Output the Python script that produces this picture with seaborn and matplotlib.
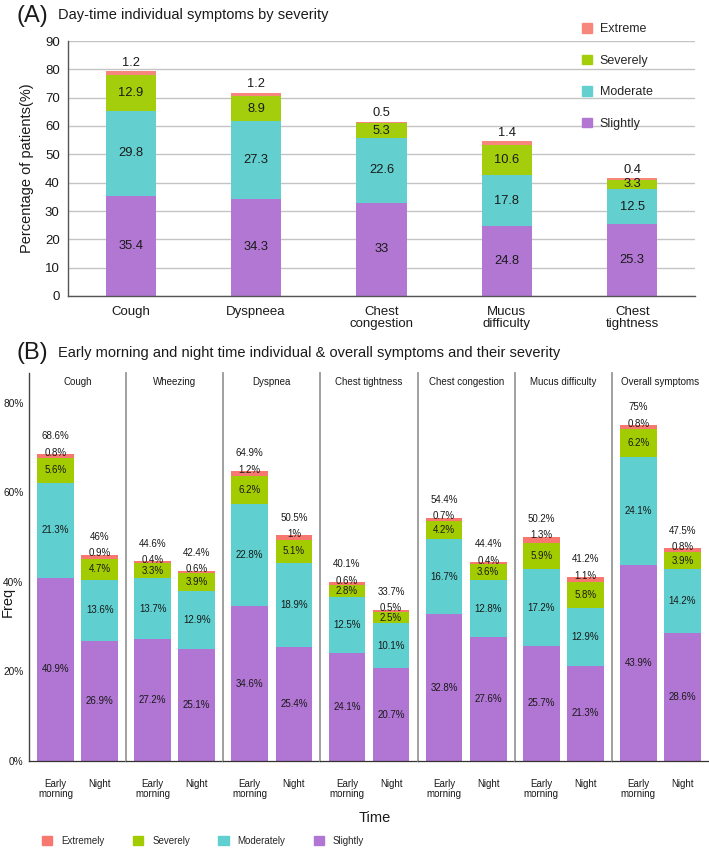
import pandas as pd
import matplotlib.pyplot as plt
import seaborn as sns
from matplotlib import font_manager
from matplotlib.patches import Patch

# Panel A: day-time symptoms by severity (% of patients)
day_symptoms = ['Cough', 'Dyspneea', 'Chest\ncongestion', 'Mucus\ndifficulty', 'Chest\ntightness']
day_slightly = [35.4, 34.3, 33, 24.8, 25.3]
day_moderate = [29.8, 27.3, 22.6, 17.8, 12.5]
day_severely = [12.9, 8.9, 5.3, 10.6, 3.3]
day_extreme = [1.2, 1.2, 0.5, 1.4, 0.4]

# Panel B: early morning / night, one pair per facet
panels = ['Cough', 'Wheezing', 'Dyspnea', 'Chest tightness', 'Chest congestion',
          'Mucus difficulty', 'Overall symptoms']
times = ['Early morning', 'Night']
slightly = [[40.9, 26.9], [27.2, 25.1], [34.6, 25.4], [24.1, 20.7], [32.8, 27.6], [25.7, 21.3], [43.9, 28.6]]
moderately = [[21.3, 13.6], [13.7, 12.9], [22.8, 18.9], [12.5, 10.1], [16.7, 12.8], [17.2, 12.9], [24.1, 14.2]]
severely = [[5.6, 4.7], [3.3, 3.9], [6.2, 5.1], [2.8, 2.5], [4.2, 3.6], [5.9, 5.8], [6.2, 3.9]]
extremely = [[0.8, 0.9], [0.4, 0.6], [1.2, 1], [0.6, 0.5], [0.7, 0.4], [1.3, 1.1], [0.8, 0.8]]
totals = [[68.6, 46], [44.6, 42.4], [64.9, 50.5], [40.1, 33.7], [54.4, 44.4], [50.2, 41.2], [75, 47.5]]

sns.set_theme(style='white')
plt.rcParams['font.family'] = ['Liberation Sans', 'DejaVu Sans']
installed = {f.name for f in font_manager.fontManager.ttflist}
has_narrow = 'Liberation Sans Narrow' in installed
narrow = ['Liberation Sans Narrow', 'Liberation Sans', 'DejaVu Sans'] if has_narrow \
    else ['Liberation Sans', 'DejaVu Sans']
nsize = 8.8 if has_narrow else 7

txt = '#1a1a1a'
fig = plt.figure(figsize=(7.09, 8.48), dpi=100)

# ---------------- Panel A ----------------
colors_a = {'Slightly': '#B277D3', 'Moderate': '#63CFCF', 'Severely': '#A4CE0C', 'Extreme': '#F7877D'}
layers_a = ['Slightly', 'Moderate', 'Severely', 'Extreme']
dfa = pd.DataFrame({'symptom': day_symptoms, 'Slightly': day_slightly, 'Moderate': day_moderate,
                    'Severely': day_severely, 'Extreme': day_extreme})
cum_a = dfa[layers_a].cumsum(axis=1)

axA = fig.add_axes([68 / 709, 1 - 296 / 848, 627 / 709, 255 / 848])
axA.yaxis.grid(True, color='#C4C4C4', linewidth=1)
axA.set_axisbelow(True)
for layer in reversed(layers_a):
    sns.barplot(data=dfa.assign(top=cum_a[layer]), x='symptom', y='top', color=colors_a[layer],
                saturation=1, width=0.4, errorbar=None, edgecolor='none', ax=axA)

for i in range(len(day_symptoms)):
    for layer in ['Slightly', 'Moderate', 'Severely']:
        val = dfa.loc[i, layer]
        axA.text(i, cum_a.loc[i, layer] - val / 2, f'{val:g}', ha='center', va='center',
                 fontsize=9.3, color=txt)
    axA.text(i, cum_a.loc[i, 'Extreme'] + 3.1, f"{dfa.loc[i, 'Extreme']:g}", ha='center',
             va='center', fontsize=9.3, color=txt)

axA.set_ylim(0, 90)
axA.set_xlim(-0.5, 4.5)
axA.set_yticks(range(0, 91, 10))
axA.tick_params(axis='y', length=0, labelsize=9.5, labelcolor=txt, pad=6)
axA.set_xticks([0.5, 1.5, 2.5, 3.5])
axA.set_xticklabels([])
axA.set_xticks(range(5), minor=True)
axA.set_xticklabels(day_symptoms, minor=True, fontsize=9.5, color=txt, linespacing=1.0)
axA.tick_params(axis='x', which='major', length=5, width=1, color='#555555', direction='out')
axA.tick_params(axis='x', which='minor', length=0, pad=7)
axA.set_xlabel('')
axA.set_ylabel('Percentage of patients(%)', fontsize=10.5, color=txt, labelpad=8)
sns.despine(ax=axA)
for s in ['left', 'bottom']:
    axA.spines[s].set_color('#555555')
    axA.spines[s].set_linewidth(1)
handles_a = [Patch(color=colors_a[k], label=k) for k in reversed(layers_a)]
axA.legend(handles=handles_a, loc='upper left', bbox_to_anchor=(571 / 709, 1 - 12 / 848),
           bbox_transform=fig.transFigure, frameon=False, fontsize=9, labelspacing=1.55,
           handlelength=0.8, handleheight=0.8, handletextpad=0.6)

fig.text(17 / 709, 1 - 16 / 848, '(A)', fontsize=17, va='center', ha='left', color=txt)
fig.text(58 / 709, 1 - 15 / 848, 'Day-time individual symptoms by severity', fontsize=10.5,
         va='center', ha='left', color=txt)

# ---------------- Panel B ----------------
colors_b = {'Slightly': '#B175D3', 'Moderately': '#5FCFCF', 'Severely': '#A3CC00', 'Extremely': '#F8776E'}
layers_b = ['Slightly', 'Moderately', 'Severely', 'Extremely']
left, right, bottom, top = 29 / 709, 1.0, 1 - 761 / 848, 1 - 373 / 848
pw = (right - left) / len(panels)
ymax = 86.7
for p, name in enumerate(panels):
    ax = fig.add_axes([left + p * pw, bottom, pw, top - bottom])
    dfb = pd.DataFrame({'time': times, 'Slightly': slightly[p], 'Moderately': moderately[p],
                        'Severely': severely[p], 'Extremely': extremely[p]})
    cum_b = dfb[layers_b].cumsum(axis=1)
    for layer in reversed(layers_b):
        sns.barplot(data=dfb.assign(top=cum_b[layer]), x='time', y='top', color=colors_b[layer],
                    saturation=1, width=0.83, errorbar=None, edgecolor='none', ax=ax)
    for i in range(2):
        for layer in ['Slightly', 'Moderately', 'Severely']:
            val = dfb.loc[i, layer]
            ax.text(i, cum_b.loc[i, layer] - val / 2, f'{val:g}%', ha='center', va='center',
                    fontsize=nsize, family=narrow, color=txt)
        ax.text(i, cum_b.loc[i, 'Extremely'] + 0.3, f"{dfb.loc[i, 'Extremely']:g}%", ha='center',
                va='center', fontsize=nsize, family=narrow, color=txt)
        ax.text(i, cum_b.loc[i, 'Extremely'] + 4.0, f'{totals[p][i]:g}%', ha='center',
                va='center', fontsize=nsize, family=narrow, color=txt)
    ax.text(0.5, 0.976, name, transform=ax.transAxes, ha='center', va='center',
            fontsize=nsize, family=narrow, color=txt)
    ax.set_xlim(-0.6, 1.6)
    ax.set_ylim(0, ymax)
    ax.set_xticks([0, 1])
    ax.set_xticklabels(['Early\nmorning', 'Night'], fontsize=nsize, family=narrow, color=txt,
                       linespacing=1.05)
    ax.tick_params(axis='x', length=5, width=0.8, color='#333333', pad=8)
    ax.set_xlabel('')
    ax.set_ylabel('')
    sns.despine(ax=ax)
    ax.spines['bottom'].set_color('#333333')
    ax.spines['bottom'].set_linewidth(0.9)
    if p == 0:
        ax.set_yticks([0, 20, 40, 60, 80])
        ax.set_yticklabels(['0%', '20%', '40%', '60%', '80%'], fontsize=nsize + 0.3,
                           family=narrow, color=txt)
        ax.tick_params(axis='y', length=3, width=0.8, color='#333333', pad=1)
        ax.spines['left'].set_color('#444444')
        ax.spines['left'].set_linewidth(1)
    else:
        ax.set_yticks([])
        ax.spines['left'].set_color('#999999')
        ax.spines['left'].set_linewidth(1.3)

fig.text(17 / 709, 1 - 353 / 848, '(B)', fontsize=17, va='center', ha='left', color=txt)
fig.text(58 / 709, 1 - 353 / 848,
         'Early morning and night time individual & overall symptoms and their severity',
         fontsize=10.5, va='center', ha='left', color=txt)
fig.text(8 / 709, 1 - 602 / 848, 'Freq', rotation=90, fontsize=10.5, family=narrow,
         va='center', ha='center', color=txt)
fig.text(375 / 709, 1 - 818 / 848, 'Time', fontsize=10.5, family=narrow, va='center',
         ha='center', color=txt)

handles_b = [Patch(color=colors_b[k], label=k) for k in reversed(layers_b)]
fig.legend(handles=handles_b, loc='center left', bbox_to_anchor=(33 / 709, 1 - 841 / 848), ncol=4,
           frameon=False, prop={'family': narrow, 'size': nsize}, handlelength=1.1,
           handleheight=1.1, handletextpad=0.9, columnspacing=2.9)

fig.savefig('out.png', dpi=100)
